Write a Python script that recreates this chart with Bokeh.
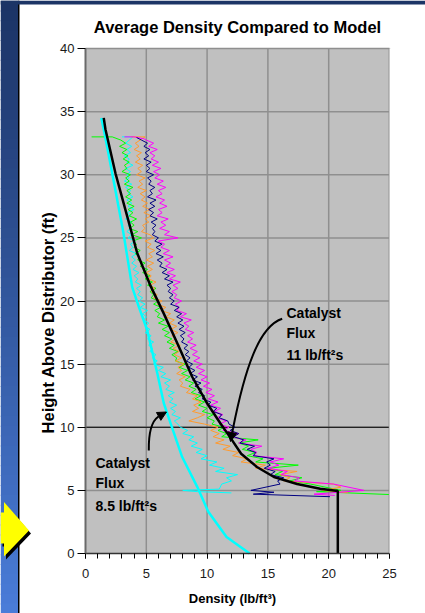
import numpy as np
from bokeh.plotting import figure
from bokeh.models import (Label, BoxAnnotation, PolyAnnotation, Range1d,
                          SingleIntervalTicker, Arrow, NormalHead)
from bokeh.embed import file_html
from bokeh.resources import INLINE

# ---- data -------------------------------------------------------------
# measurement heights shared by the five density profiles (ft)
heights = [32.75, 32.5, 32.25, 32.0, 31.75, 31.5, 31.25, 31.0, 30.75, 30.5,
           30.25, 30.0, 29.75, 29.5, 29.25, 29.0, 28.75, 28.5, 28.25, 28.0,
           27.75, 27.5, 27.25, 27.0, 26.75, 26.5, 26.25, 26.0, 25.75, 25.5,
           25.25, 25.0, 24.75, 24.5, 24.25, 24.0, 23.75, 23.5, 23.25, 23.0,
           22.75, 22.5, 22.25, 22.0, 21.75, 21.5, 21.25, 21.0, 20.75, 20.5,
           20.25, 20.0, 19.75, 19.5, 19.25, 19.0, 18.75, 18.5, 18.25, 18.0,
           17.75, 17.5, 17.25, 17.0, 16.75, 16.5, 16.25, 16.0, 15.75, 15.5,
           15.25, 15.0, 14.75, 14.5, 14.25, 14.0, 13.75, 13.5, 13.25, 13.0,
           12.75, 12.5, 12.25, 12.0, 11.75, 11.5, 11.25, 11.0, 10.75, 10.5,
           10.25, 10.0, 9.75, 9.5, 9.25, 9.0, 8.75, 8.5, 8.25, 8.0,
           7.75, 7.5, 7.25, 7.0, 6.75, 6.5, 6.25, 6.0, 5.75, 5.5]

green_body = [2.9, 3.3, 2.8, 3.4, 3.0, 3.5, 3.1, 3.6, 3.2, 3.4,
              3.0, 3.7, 3.3, 3.6, 3.2, 3.9, 3.4, 3.7, 3.3, 3.8,
              3.4, 4.0, 3.5, 3.9, 3.6, 4.2, 3.7, 4.0, 3.6, 4.3,
              3.8, 4.6, 3.9, 4.2, 4.0, 4.5, 4.1, 4.4, 4.3, 4.9,
              4.5, 5.1, 4.7, 5.3, 4.9, 5.5, 5.1, 5.8, 5.3, 5.6,
              5.4, 6.0, 5.6, 6.2, 5.7, 6.1, 5.9, 6.5, 6.0, 6.8,
              6.3, 6.9, 6.5, 7.1, 6.7, 7.3, 6.9, 7.6, 7.1, 7.5,
              7.4, 8.2, 7.7, 8.4, 7.9, 8.6, 8.2, 8.9, 8.5, 9.1,
              8.7, 9.5, 9.0, 9.8, 9.3, 10.0, 9.6, 10.5, 10.0, 10.6,
              10.4, 11.4, 10.9, 11.6, 11.2, 14.2, 12.6, 13.4, 12.9, 14.0,
              13.3, 14.6, 14.0, 17.5, 15.0, 16.2, 15.6, 17.8, 16.8, 18.5]
green_x = [0.5, 2.2] + green_body + [21.0, 19.0, 25.5]
green_y = [33.0, 33.0] + heights + [5.0, 4.9, 4.65]

cyan_body = [3.6, 3.3, 3.8, 3.4, 3.7, 3.2, 3.6, 3.4, 3.9, 3.3,
             3.7, 3.4, 3.6, 3.2, 3.8, 3.3, 3.7, 3.5, 3.9, 3.4,
             3.8, 3.5, 4.0, 3.4, 3.7, 3.3, 3.8, 3.5, 3.7, 3.4,
             3.8, 3.5, 4.1, 3.7, 3.9, 3.6, 4.2, 3.8, 4.1, 3.8,
             4.2, 3.9, 4.4, 4.0, 4.3, 4.1, 4.6, 4.2, 4.5, 4.3,
             4.7, 4.4, 4.9, 4.5, 5.1, 4.7, 5.0, 4.8, 5.2, 4.9,
             5.3, 4.9, 5.4, 5.1, 5.6, 5.2, 5.5, 5.3, 5.8, 5.5,
             5.9, 5.6, 6.4, 6.0, 6.6, 6.2, 7.0, 6.5, 6.9, 6.6,
             7.3, 6.8, 7.2, 6.9, 7.5, 7.0, 7.4, 7.1, 7.8, 7.3,
             7.6, 7.8, 8.4, 8.0, 8.9, 8.5, 9.2, 8.7, 9.6, 9.1,
             10.0, 9.5, 10.8, 10.2, 11.4, 10.7, 12.5, 11.6, 12.0, 11.2]
cyan_x = [3.0, 3.9] + cyan_body + [11.0, 8.0, 9.2, 12.0]
cyan_y = [33.0, 33.0] + heights + [5.1, 5.0, 4.9, 4.8]

orange_body = [4.5, 4.1, 4.4, 4.0, 4.6, 4.2, 4.5, 4.1, 4.7, 4.3,
               4.6, 4.2, 4.9, 4.4, 4.7, 4.3, 5.0, 4.5, 4.9, 4.6,
               5.1, 4.7, 5.3, 4.8, 5.4, 4.9, 5.2, 4.7, 4.9, 4.6,
               5.3, 5.6, 4.9, 5.4, 5.1, 5.7, 5.2, 5.5, 5.0, 5.6,
               5.1, 5.5, 5.0, 5.4, 5.2, 5.8, 5.3, 5.7, 5.4, 5.9,
               5.6, 6.3, 5.9, 6.6, 6.2, 7.0, 6.6, 7.3, 6.9, 7.5,
               7.0, 7.6, 7.1, 7.4, 7.0, 7.8, 7.2, 7.7, 7.3, 7.9,
               7.4, 8.1, 7.6, 7.9, 7.5, 8.2, 7.7, 8.0, 7.8, 8.6,
               8.3, 9.2, 8.8, 9.5, 8.9, 9.3, 8.8, 9.8, 9.2, 8.5,
               9.8, 10.9, 10.3, 11.0, 10.5, 11.4, 10.7, 11.9, 11.3, 12.6,
               12.1, 13.3, 12.8, 14.8, 14.0, 17.4, 16.0, 16.8, 16.3, 20.4]
orange_x = [3.7, 4.9] + orange_body + [21.0, 19.5, 21.6]
orange_y = [33.0, 33.0] + heights + [5.25, 5.0, 4.8]

magenta_body = [5.0, 5.6, 5.2, 5.9, 5.3, 5.7, 5.4, 6.0, 5.5, 6.2,
                5.6, 6.1, 5.7, 6.4, 5.9, 6.6, 6.0, 6.3, 5.8, 6.5,
                6.1, 6.7, 6.0, 6.3, 5.9, 6.8, 6.2, 6.6, 6.1, 6.9,
                6.5, 7.6, 6.0, 6.5, 6.2, 6.9, 6.4, 7.2, 6.5, 7.0,
                6.6, 7.3, 6.7, 7.4, 6.9, 7.8, 7.2, 7.6, 7.1, 7.5,
                7.3, 7.9, 7.4, 7.7, 7.5, 8.3, 7.8, 8.7, 8.1, 8.5,
                8.2, 8.9, 8.4, 8.8, 8.4, 9.1, 8.6, 9.2, 8.8, 9.4,
                8.9, 9.6, 9.1, 9.8, 9.3, 10.0, 9.5, 10.2, 9.7, 10.4,
                9.9, 10.6, 10.1, 10.9, 10.3, 11.1, 10.6, 11.3, 10.8, 11.6,
                11.0, 11.8, 11.3, 12.6, 11.9, 13.2, 12.6, 14.5, 13.6, 14.1,
                13.8, 16.3, 15.2, 15.9, 15.0, 16.6, 16.1, 17.6, 17.2, 20.4]
magenta_x = [3.2, 4.0, 4.8] + magenta_body + [22.9, 18.8, 20.5]
magenta_y = [33.0, 33.0, 32.85] + heights + [5.0, 4.7, 4.6]

navy_body = [4.6, 5.1, 4.8, 5.3, 4.9, 5.2, 4.8, 5.4, 5.0, 5.3,
             5.0, 5.6, 5.1, 5.4, 5.2, 5.7, 5.3, 5.5, 5.1, 5.8,
             5.3, 5.7, 5.2, 5.6, 5.3, 5.9, 5.4, 5.8, 5.5, 5.7,
             5.5, 6.0, 5.7, 6.3, 5.8, 6.2, 5.8, 6.4, 5.9, 6.3,
             6.1, 6.7, 6.3, 6.9, 6.5, 7.2, 6.7, 7.0, 6.8, 7.2,
             6.9, 7.3, 7.0, 7.7, 7.3, 7.9, 7.5, 8.0, 7.6, 8.1,
             7.7, 8.2, 7.8, 8.1, 7.9, 8.4, 8.1, 8.5, 8.2, 8.6,
             8.3, 8.8, 8.5, 9.0, 8.6, 9.2, 8.8, 9.5, 9.0, 9.6,
             9.3, 9.8, 9.6, 10.3, 10.1, 10.8, 10.5, 11.2, 11.0, 11.7,
             11.8, 12.3, 11.9, 12.6, 12.2, 13.0, 12.7, 13.9, 13.3, 14.0,
             13.8, 15.5, 14.9, 15.2, 14.7, 15.6, 15.2, 16.3, 15.8, 16.0]
navy_x = [4.2] + navy_body + [13.6, 15.5, 13.8, 20.1]
navy_y = [32.95] + heights + [5.0, 4.85, 4.7, 4.5]

# model predictions
model_11_x = [1.5, 1.64, 2.47, 3.43, 4.25, 5.3, 6.44, 7.67, 8.77, 10.0,
              11.1, 11.9, 12.8, 14.1, 15.5, 17.4, 19.3, 20.75, 20.75]
model_11_y = [34.5, 33.6, 30.1, 26.7, 23.8, 21.3, 19.0, 16.4, 14.0, 11.9,
              10.3, 9.2, 7.9, 6.85, 6.06, 5.5, 5.13, 4.95, 0.0]

model_85_x = [1.3, 1.5, 2.2, 3.1, 3.84, 4.4, 5.07, 5.9, 6.44, 7.0,
              7.95, 9.2, 10.1, 11.6, 13.5]
model_85_y = [34.5, 33.6, 30.1, 25.5, 21.1, 19.5, 17.7, 14.3, 11.9, 10.3,
              7.64, 5.26, 3.3, 1.3, 0.0]

ref_height = 10
x_lo, x_hi, x_step = 0, 25, 5
y_lo, y_hi, y_step = 0, 40, 5

# ---- layout -----------------------------------------------------------
W, H = 425, 613
LEFT, RIGHT, TOP, BOTTOM = 85, 389, 48, 553   # plot-area edges on the page
FONT = "Liberation Sans"


def sx(px):
    return (px - LEFT) / (RIGHT - LEFT) * x_hi


def sy(py):
    return (BOTTOM - py) / (BOTTOM - TOP) * y_hi


# the frame covers the whole page; axes sit at fixed data locations
p = figure(width=W, height=H, title=None,
           x_range=Range1d(sx(0), sx(W)), y_range=Range1d(sy(H), sy(0)),
           output_backend="svg", toolbar_location=None,
           min_border=0)
p.background_fill_color = "white"
p.border_fill_color = "white"
p.outline_line_color = None
p.xgrid.visible = False
p.ygrid.visible = False

# slide backdrop: blue gradient strip on the left and a dark band on top
n_bands = 62
top_col = np.array([0x1c, 0x34, 0x66])
bot_col = np.array([0x4a, 0x7c, 0xd8])
for i in range(n_bands):
    t = i / (n_bands - 1)
    c = (top_col * (1 - t) + bot_col * t).astype(int)
    y0 = i * H / n_bands
    y1 = (i + 1) * H / n_bands + 1
    p.add_layout(BoxAnnotation(left=sx(0), right=sx(18), top=sy(y0), bottom=sy(y1),
                               fill_color="#%02x%02x%02x" % tuple(c), fill_alpha=1,
                               line_alpha=0, level="underlay"))
p.add_layout(BoxAnnotation(left=sx(17.5), right=sx(19), top=sy(0), bottom=sy(H),
                           fill_color="black", fill_alpha=1, line_alpha=0, level="underlay"))
p.add_layout(BoxAnnotation(left=sx(0), right=sx(W), top=sy(0), bottom=sy(4),
                           fill_color="#1c3566", fill_alpha=1, line_alpha=0, level="underlay"))

# grey plot area
p.add_layout(BoxAnnotation(left=x_lo, right=x_hi, bottom=y_lo, top=y_hi,
                           fill_color="#c0c0c0", fill_alpha=1, line_alpha=0, level="underlay"))

# yellow pointer with its drop shadow
arrow_px = [(0, 512), (3.5, 512), (3.5, 501.5), (28.5, 530), (3.5, 556), (3.5, 543), (0, 543)]
p.add_layout(PolyAnnotation(xs=[sx(a + 2) for a, b in arrow_px], ys=[sy(b + 3) for a, b in arrow_px],
                            fill_color="black", fill_alpha=1, line_alpha=0))
p.add_layout(PolyAnnotation(xs=[sx(a) for a, b in arrow_px], ys=[sy(b) for a, b in arrow_px],
                            fill_color="#ffff00", fill_alpha=1, line_alpha=0))

# ---- grid and axes ----------------------------------------------------
gx = list(range(x_lo + x_step, x_hi + 1, x_step))
gy = list(range(y_lo + y_step, y_hi + 1, y_step))
p.segment(x0=gx, y0=[y_lo] * len(gx), x1=gx, y1=[y_hi] * len(gx),
          line_color="#8f8f8f", line_width=1.5)
p.segment(x0=[x_lo] * len(gy), y0=gy, x1=[x_hi] * len(gy), y1=gy,
          line_color="#8f8f8f", line_width=1.5)

xt = SingleIntervalTicker(interval=x_step, num_minor_ticks=5)
yt = SingleIntervalTicker(interval=y_step, num_minor_ticks=0)
p.xaxis.ticker = xt
p.yaxis.ticker = yt
p.xaxis.fixed_location = y_lo
p.yaxis.fixed_location = x_lo
p.xaxis.bounds = (x_lo, x_hi)
p.yaxis.bounds = (y_lo, y_hi)

for ax in (p.xaxis, p.yaxis):
    ax.major_label_text_font = FONT
    ax.major_label_text_font_size = "13px"
    ax.major_label_text_color = "#1a1a1a"
    ax.major_tick_in = 0
    ax.minor_tick_in = 0
    ax.major_tick_line_color = "black"
    ax.minor_tick_line_color = "black"

p.yaxis.major_tick_out = 8
p.yaxis.major_label_standoff = 3
p.yaxis.axis_line_color = "#6a6a6a"
p.yaxis.axis_line_width = 2
p.xaxis.major_tick_out = 5
p.xaxis.minor_tick_out = 5
p.xaxis.major_label_standoff = 10
p.xaxis.axis_line_color = "#333333"
p.xaxis.axis_line_width = 1.5

# ---- series -----------------------------------------------------------
p.line([x_lo, x_hi], [ref_height, ref_height], line_color="black", line_width=1)

p.line(cyan_x, cyan_y, line_color="#00ffff", line_width=1)
p.line(green_x, green_y, line_color="#00ff00", line_width=1)
p.line(orange_x, orange_y, line_color="#ff9a2e", line_width=1)
p.line(magenta_x, magenta_y, line_color="#ff00ff", line_width=1)
p.line(navy_x, navy_y, line_color="#000080", line_width=1)

p.line(model_85_x, model_85_y, line_color="#00ffff", line_width=2.5)
p.line(model_11_x, model_11_y, line_color="black", line_width=2.5)

# cover anything that runs past the right edge of the plot area
p.add_layout(BoxAnnotation(left=x_hi, right=sx(W), bottom=y_lo, top=y_hi,
                           fill_color="white", fill_alpha=1, line_alpha=0))
p.line([x_hi, x_hi], [y_lo, y_hi], line_color="#8f8f8f", line_width=1.5)

# ---- callouts ---------------------------------------------------------
p.bezier(x0=[sx(281.7)], y0=[sy(318.3)], x1=[sx(232.5)], y1=[sy(428)],
         cx0=[sx(258)], cy0=[sy(326)], cx1=[sx(244)], cy1=[sy(370)],
         line_color="black", line_width=2)
p.add_layout(Arrow(x_start=sx(232.5), y_start=sy(428), x_end=sx(230), y_end=sy(441),
                   line_color="black", line_width=2,
                   end=NormalHead(size=9, fill_color="black", line_color="black")))

p.bezier(x0=[sx(148.3)], y0=[sy(450)], x1=[sx(158)], y1=[sy(416)],
         cx0=[sx(148)], cy0=[sy(430)], cx1=[sx(152)], cy1=[sy(420)],
         line_color="black", line_width=2)
p.add_layout(Arrow(x_start=sx(158), y_start=sy(416), x_end=sx(166), y_end=sy(411.5),
                   line_color="black", line_width=2,
                   end=NormalHead(size=9, fill_color="black", line_color="black")))


def text(px, py, s, size, bold=False, align="left", angle=0.0):
    p.add_layout(Label(x=sx(px), y=sy(py), text=s, text_font=FONT,
                       text_font_size=size, text_font_style="bold" if bold else "normal",
                       text_color="black", text_align=align, text_baseline="middle",
                       angle=angle))


text(237, 26, "Average Density Compared to Model", "16.5px", bold=True, align="center")
text(47, 322, "Height Above Distributor (ft)", "16.5px", bold=True, align="center", angle=np.pi / 2)
text(232, 598, "Density (lb/ft³)", "13px", bold=True, align="center")

for py, s in ((312, "Catalyst"), (332, "Flux"), (354, "11 lb/ft²s")):
    text(286, py, s, "14px", bold=True)
for py, s in ((462, "Catalyst"), (482, "Flux"), (505, "8.5 lb/ft²s")):
    text(95, py, s, "14px", bold=True)

open("out.html", "w").write(file_html(p, INLINE))
